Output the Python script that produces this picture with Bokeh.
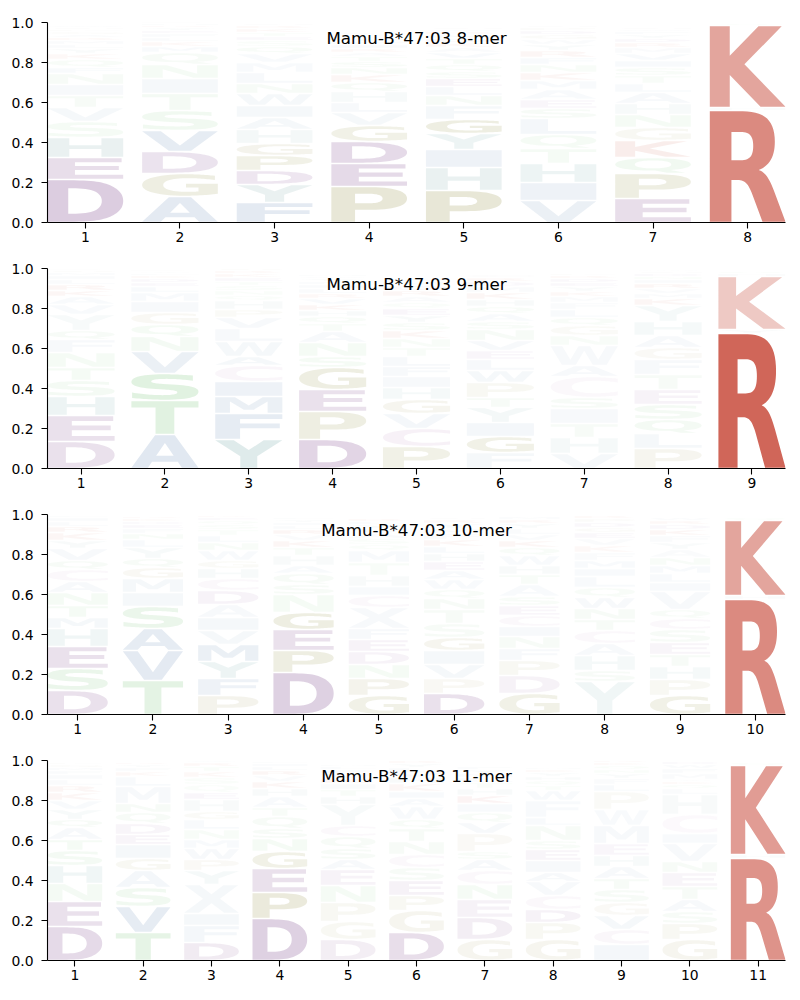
import struct, glob
import numpy as np
from bokeh.plotting import figure
from bokeh.models import ColumnDataSource, Range1d, FixedTicker, PrintfTickFormatter, Label
from bokeh.layouts import column
from bokeh.embed import file_html
from bokeh.resources import INLINE
from bokeh.core.properties import value

# ---------------- data: (letter, frequency, opacity), bottom to top ----------------
titles = ["Mamu-B*47:03 8-mer", "Mamu-B*47:03 9-mer", "Mamu-B*47:03 10-mer", "Mamu-B*47:03 11-mer"]

logo_8mer = [
    [("D",.215,.30),("E",.11,.20),("H",.10,.15),("S",.08,.07),("V",.07,.07),("T",.06,.06),("I",.055,.06),("N",.055,.06),("F",.03,.05),("Q",.04,.05),("K",.03,.04),("Y",.025,.04),("L",.02,.04),("M",.02,.04),("R",.015,.04),("A",.015,.04),("G",.015,.04),("P",.01,.04),("C",.01,.04),("W",.01,.04)],
    [("A",.13,.20),("G",.115,.18),("D",.11,.17),("V",.105,.18),("S",.10,.10),("T",.085,.08),("I",.075,.07),("N",.07,.07),("Q",.06,.06),("M",.03,.05),("K",.025,.04),("L",.02,.04),("F",.02,.04),("E",.015,.04),("Y",.015,.04),("R",.01,.04),("H",.01,.04),("P",.005,.04)],
    [("F",.10,.20),("Y",.09,.15),("D",.07,.15),("P",.075,.15),("G",.06,.12),("H",.07,.08),("A",.06,.07),("I",.06,.07),("W",.06,.07),("N",.05,.06),("L",.055,.06),("M",.05,.05),("V",.045,.05),("Q",.035,.05),("S",.03,.04),("E",.02,.04),("T",.02,.04),("K",.02,.04),("R",.015,.04),("C",.01,.04)],
    [("P",.18,.25),("E",.115,.22),("D",.11,.22),("G",.08,.15),("V",.065,.07),("L",.05,.06),("H",.055,.06),("Q",.045,.06),("K",.04,.05),("N",.035,.05),("S",.03,.05),("T",.025,.04),("A",.02,.04),("R",.02,.04),("I",.02,.04),("F",.015,.04),("Y",.015,.04),("M",.01,.04),("W",.01,.04),("C",.01,.04)],
    [("P",.16,.25),("H",.115,.15),("I",.09,.12),("Y",.08,.12),("G",.07,.18),("F",.07,.07),("N",.05,.06),("L",.045,.06),("E",.04,.06),("S",.035,.05),("Q",.035,.05),("T",.03,.05),("V",.03,.05),("A",.025,.04),("K",.025,.04),("D",.02,.04),("M",.02,.04),("R",.015,.04),("W",.01,.04),("C",.01,.04)],
    [("V",.11,.15),("I",.09,.12),("H",.095,.12),("T",.075,.07),("Q",.07,.07),("L",.08,.08),("S",.05,.06),("E",.045,.05),("A",.05,.05),("M",.045,.05),("K",.04,.05),("N",.04,.05),("F",.035,.05),("R",.035,.05),("Y",.03,.04),("W",.025,.04),("G",.025,.04),("D",.02,.04),("P",.015,.04),("C",.01,.04)],
    [("E",.12,.20),("P",.125,.18),("Q",.08,.10),("K",.085,.10),("G",.065,.08),("N",.065,.07),("H",.055,.06),("A",.055,.06),("L",.045,.05),("T",.04,.05),("S",.04,.05),("I",.035,.05),("V",.035,.05),("M",.03,.04),("R",.025,.04),("D",.02,.04),("Y",.02,.04),("F",.015,.04),("W",.01,.04),("C",.01,.04)],
    [("R",.56,.65),("H",.015,.05),("K",.41,.50),("Q",.01,.04)],
]

logo_9mer = [
    [("D",.135,.18),("E",.13,.18),("H",.095,.12),("S",.08,.08),("T",.065,.07),("N",.075,.07),("F",.065,.06),("Q",.045,.06),("Y",.08,.06),("V",.05,.05),("A",.04,.05),("K",.03,.05),("R",.03,.05),("L",.025,.04),("I",.02,.04),("M",.015,.04),("G",.01,.04),("P",.005,.04)],
    [("A",.17,.22),("T",.17,.22),("S",.135,.22),("V",.11,.15),("N",.075,.08),("Q",.06,.07),("G",.06,.07),("I",.055,.06),("M",.045,.05),("L",.03,.05),("E",.02,.04),("D",.02,.04),("K",.015,.04),("F",.01,.04),("Y",.01,.04),("P",.005,.04)],
    [("Y",.145,.22),("F",.13,.18),("M",.085,.15),("I",.075,.12),("C",.08,.08),("A",.045,.07),("W",.075,.07),("L",.065,.06),("V",.055,.06),("P",.04,.05),("H",.045,.05),("Q",.025,.04),("N",.025,.04),("S",.025,.04),("T",.02,.04),("E",.02,.04),("K",.02,.04),("R",.015,.04),("G",.01,.04)],
    [("D",.145,.25),("P",.14,.18),("E",.11,.18),("G",.11,.18),("S",.055,.07),("N",.07,.07),("A",.055,.06),("T",.04,.05),("Q",.035,.05),("H",.03,.05),("K",.03,.05),("V",.03,.05),("R",.025,.04),("L",.025,.04),("I",.02,.04),("F",.015,.04),("Y",.015,.04),("W",.01,.04),("M",.01,.04)],
    [("P",.11,.15),("C",.09,.12),("V",.075,.08),("G",.07,.10),("H",.06,.07),("I",.055,.06),("F",.05,.06),("L",.05,.06),("T",.045,.05),("N",.045,.05),("K",.04,.05),("S",.04,.05),("Y",.035,.05),("E",.035,.05),("Q",.03,.04),("A",.03,.04),("R",.03,.05),("D",.025,.04),("M",.02,.04),("W",.015,.04)],
    [("F",.08,.07),("G",.08,.15),("I",.07,.08),("Y",.075,.08),("T",.05,.06),("P",.075,.08),("W",.06,.07),("L",.055,.06),("E",.045,.05),("V",.05,.06),("N",.055,.06),("S",.04,.05),("A",.04,.05),("Q",.035,.05),("H",.035,.05),("K",.035,.05),("M",.03,.04),("D",.025,.04),("R",.02,.04),("C",.015,.04)],
    [("V",.075,.07),("H",.08,.07),("T",.07,.06),("I",.075,.06),("S",.055,.06),("C",.105,.06),("A",.055,.06),("W",.10,.06),("N",.05,.05),("G",.05,.05),("Q",.04,.05),("L",.04,.05),("F",.035,.04),("M",.03,.04),("K",.025,.04),("Y",.025,.04),("E",.02,.04),("D",.02,.04),("R",.015,.04),("P",.01,.04)],
    [("P",.10,.10),("L",.075,.07),("Q",.07,.08),("S",.075,.08),("E",.075,.07),("T",.075,.06),("F",.075,.06),("G",.06,.06),("A",.06,.06),("H",.07,.07),("Y",.08,.07),("K",.035,.05),("M",.025,.04),("V",.025,.04),("R",.025,.05),("I",.02,.04),("N",.015,.04),("D",.015,.04),("C",.01,.04),("W",.005,.04)],
    [("R",.675,.85),("Y",.02,.05),("K",.265,.30),("H",.015,.04),("S",.01,.04)],
]

logo_10mer = [
    [("D",.12,.18),("S",.11,.15),("E",.11,.18),("H",.09,.10),("M",.055,.07),("T",.06,.07),("N",.065,.07),("A",.055,.06),("C",.06,.06),("Q",.045,.06),("V",.06,.06),("Y",.04,.05),("K",.04,.05),("R",.03,.05),("L",.025,.04),("I",.02,.04),("F",.01,.04)],
    [("T",.17,.20),("V",.15,.20),("A",.11,.18),("S",.11,.15),("I",.07,.07),("M",.07,.07),("G",.055,.07),("Q",.045,.06),("Y",.055,.06),("L",.04,.05),("N",.03,.05),("F",.025,.04),("E",.02,.04),("D",.015,.04),("K",.015,.04),("R",.01,.04)],
    [("P",.095,.12),("F",.085,.12),("Y",.085,.12),("M",.085,.15),("V",.07,.07),("I",.065,.07),("A",.065,.06),("D",.07,.07),("C",.06,.06),("H",.05,.06),("G",.04,.05),("W",.05,.05),("N",.04,.05),("L",.035,.05),("T",.03,.04),("S",.025,.04),("Q",.02,.04),("E",.015,.04),("K",.01,.04)],
    [("D",.21,.28),("P",.11,.18),("E",.105,.18),("G",.085,.18),("N",.09,.07),("S",.05,.06),("Q",.055,.06),("A",.04,.05),("H",.05,.05),("T",.04,.05),("K",.035,.05),("V",.03,.04),("R",.025,.05),("L",.02,.04),("I",.015,.04),("Y",.015,.04),("F",.01,.04)],
    [("G",.095,.15),("P",.085,.12),("N",.07,.07),("D",.065,.07),("E",.06,.07),("F",.055,.06),("X",.105,.06),("C",.06,.06),("I",.045,.05),("H",.055,.05),("T",.065,.05),("M",.06,.05),("Q",.03,.04),("S",.03,.04),("A",.025,.04),("V",.025,.04),("Y",.02,.04),("L",.015,.04),("R",.015,.04)],
    [("D",.105,.18),("P",.075,.07),("V",.07,.07),("I",.07,.07),("G",.065,.10),("S",.07,.06),("T",.07,.06),("N",.055,.06),("Q",.045,.05),("W",.05,.05),("A",.045,.05),("E",.045,.05),("H",.04,.05),("L",.035,.05),("K",.035,.05),("F",.03,.04),("M",.025,.04),("Y",.025,.04),("R",.02,.04),("C",.01,.04)],
    [("G",.105,.15),("D",.09,.08),("P",.075,.08),("F",.06,.06),("N",.06,.06),("I",.05,.06),("C",.055,.06),("E",.05,.05),("S",.045,.05),("A",.06,.05),("T",.05,.05),("H",.045,.05),("W",.05,.05),("Q",.04,.05),("K",.035,.05),("V",.03,.04),("L",.03,.04),("Y",.025,.04),("R",.02,.04),("M",.015,.04)],
    [("Y",.165,.10),("S",.055,.06),("H",.075,.07),("A",.06,.06),("C",.065,.06),("T",.055,.06),("N",.055,.06),("W",.055,.06),("Q",.05,.05),("L",.055,.05),("I",.04,.05),("M",.04,.05),("F",.04,.04),("K",.035,.04),("V",.035,.04),("E",.03,.04),("G",.025,.04),("D",.025,.04),("P",.02,.04),("R",.015,.04)],
    [("G",.095,.15),("P",.08,.08),("H",.065,.07),("T",.06,.06),("E",.06,.06),("S",.065,.06),("C",.055,.06),("Q",.045,.05),("V",.09,.06),("I",.045,.05),("L",.045,.05),("M",.04,.05),("N",.04,.05),("A",.04,.04),("Y",.035,.04),("F",.035,.04),("K",.03,.05),("D",.025,.04),("R",.02,.04),("W",.015,.04)],
    [("R",.575,.65),("H",.02,.04),("K",.375,.50),("Q",.015,.04)],
]

logo_11mer = [
    [("D",.17,.22),("E",.125,.18),("N",.09,.08),("H",.09,.10),("S",.075,.08),("T",.055,.07),("A",.06,.06),("Q",.04,.06),("Y",.05,.06),("V",.045,.05),("K",.04,.05),("R",.035,.05),("L",.03,.04),("I",.025,.04),("F",.02,.04),("M",.015,.04),("G",.015,.04),("P",.01,.04)],
    [("T",.14,.18),("V",.13,.18),("S",.095,.10),("A",.085,.08),("G",.06,.08),("I",.07,.07),("E",.05,.06),("D",.055,.06),("Q",.055,.06),("N",.045,.06),("M",.085,.06),("L",.05,.05),("K",.025,.04),("F",.02,.04),("Y",.015,.04),("R",.01,.04)],
    [("D",.09,.12),("F",.085,.08),("I",.06,.07),("X",.145,.07),("Y",.07,.07),("P",.055,.06),("W",.055,.06),("M",.045,.05),("N",.05,.05),("L",.05,.05),("G",.04,.05),("H",.06,.05),("E",.035,.05),("Q",.04,.04),("S",.035,.04),("K",.03,.04),("T",.025,.04),("R",.02,.04),("V",.01,.04)],
    [("D",.21,.28),("P",.13,.22),("E",.12,.18),("G",.085,.15),("N",.065,.07),("S",.05,.06),("Q",.06,.06),("T",.045,.05),("A",.055,.05),("H",.04,.05),("K",.035,.05),("V",.03,.04),("R",.025,.05),("L",.02,.04),("I",.015,.04),("F",.01,.04)],
    [("D",.105,.10),("G",.09,.08),("P",.095,.08),("N",.085,.07),("E",.08,.07),("A",.05,.06),("S",.055,.06),("Q",.06,.06),("C",.055,.06),("Y",.105,.06),("H",.04,.05),("T",.035,.05),("I",.03,.04),("K",.025,.05),("V",.025,.04),("F",.02,.04),("L",.015,.04),("M",.01,.04)],
    [("D",.14,.20),("G",.11,.10),("P",.075,.08),("E",.075,.08),("S",.065,.06),("C",.065,.06),("N",.065,.06),("T",.065,.06),("Q",.045,.05),("W",.065,.05),("A",.04,.05),("I",.035,.05),("K",.04,.05),("H",.03,.05),("V",.025,.04),("L",.025,.04),("Y",.02,.04),("R",.015,.04)],
    [("G",.105,.10),("D",.11,.10),("E",.09,.08),("N",.075,.07),("C",.07,.06),("A",.055,.06),("S",.04,.05),("P",.09,.06),("V",.055,.06),("Q",.05,.05),("I",.045,.05),("K",.04,.06),("H",.035,.05),("T",.03,.04),("L",.025,.04),("M",.02,.04),("Y",.02,.04),("F",.015,.04)],
    [("G",.105,.10),("P",.085,.08),("D",.065,.08),("C",.07,.06),("V",.07,.06),("A",.045,.06),("I",.06,.06),("E",.055,.06),("S",.045,.05),("N",.075,.06),("L",.04,.05),("F",.085,.05),("W",.05,.05),("T",.025,.04),("Q",.025,.04),("H",.02,.04),("Y",.02,.04),("K",.015,.04),("M",.01,.04)],
    [("I",.08,.08),("C",.075,.07),("V",.07,.07),("G",.065,.06),("S",.065,.06),("T",.055,.06),("A",.06,.06),("H",.055,.06),("E",.06,.05),("M",.09,.06),("W",.08,.05),("P",.09,.05),("L",.035,.05),("F",.03,.04),("Y",.025,.04),("N",.02,.04),("Q",.02,.04),("K",.015,.04),("R",.01,.04)],
    [("G",.105,.10),("P",.08,.08),("S",.06,.06),("A",.06,.06),("T",.065,.06),("E",.07,.06),("N",.055,.06),("V",.09,.06),("I",.05,.05),("C",.095,.05),("H",.10,.05),("L",.03,.04),("Q",.02,.04),("K",.015,.04),("Y",.01,.04),("M",.03,.04),("F",.025,.04),("W",.02,.04),("D",.015,.04)],
    [("R",.51,.60),("H",.02,.04),("K",.445,.55),("Q",.015,.04)],
]

logos = [logo_8mer, logo_9mer, logo_10mer, logo_11mer]

RED, PURPLE, OLIVE, BLUE, GREEN, TEAL, PINK = "#c84b3c", "#8a5898", "#a3a060", "#7797bf", "#77c377", "#6fa3a3", "#bf8fbf"
letter_colors = {"K": RED, "R": RED, "D": PURPLE, "E": PURPLE, "P": OLIVE, "G": OLIVE,
                 "A": BLUE, "V": BLUE, "L": BLUE, "I": BLUE, "M": BLUE, "F": BLUE, "W": BLUE, "X": BLUE,
                 "S": GREEN, "T": GREEN, "N": GREEN, "Q": GREEN, "H": TEAL, "Y": TEAL, "C": PINK}

# ---------------- glyph outlines from the installed bold sans font ----------------
class TTF:
    def __init__(self, path):
        d = open(path, "rb").read()
        self.d = d
        n = struct.unpack(">H", d[4:6])[0]
        self.t = {}
        for i in range(n):
            tag, cs, off, ln = struct.unpack(">4sIII", d[12 + 16 * i:28 + 16 * i])
            self.t[tag.decode("latin1")] = (off, ln)
        ho = self.t["head"][0]
        locfmt = struct.unpack(">h", d[ho + 50:ho + 52])[0]
        mo = self.t["maxp"][0]
        ng = struct.unpack(">H", d[mo + 4:mo + 6])[0]
        lo = self.t["loca"][0]
        if locfmt == 0:
            self.loca = [2 * v for v in struct.unpack(">%dH" % (ng + 1), d[lo:lo + 2 * (ng + 1)])]
        else:
            self.loca = list(struct.unpack(">%dI" % (ng + 1), d[lo:lo + 4 * (ng + 1)]))
        self._cmap()

    def _cmap(self):
        d = self.d
        co = self.t["cmap"][0]
        n = struct.unpack(">H", d[co + 2:co + 4])[0]
        sub = None
        for i in range(n):
            pid, eid, off = struct.unpack(">HHI", d[co + 4 + 8 * i:co + 12 + 8 * i])
            fmt = struct.unpack(">H", d[co + off:co + off + 2])[0]
            if fmt == 4 and (sub is None or (pid == 3 and eid == 1)):
                sub = co + off
        sx2 = struct.unpack(">H", d[sub + 6:sub + 8])[0]
        seg = sx2 // 2
        self.ends = struct.unpack(">%dH" % seg, d[sub + 14:sub + 14 + sx2])
        self.starts = struct.unpack(">%dH" % seg, d[sub + 16 + sx2:sub + 16 + 2 * sx2])
        self.deltas = struct.unpack(">%dh" % seg, d[sub + 16 + 2 * sx2:sub + 16 + 3 * sx2])
        self.rpos = sub + 16 + 3 * sx2
        self.roffs = struct.unpack(">%dH" % seg, d[self.rpos:self.rpos + sx2])

    def gid(self, ch):
        c = ord(ch)
        for i in range(len(self.ends)):
            if self.starts[i] <= c <= self.ends[i]:
                if self.roffs[i] == 0:
                    return (c + self.deltas[i]) & 0xFFFF
                a = self.rpos + 2 * i + self.roffs[i] + 2 * (c - self.starts[i])
                g = struct.unpack(">H", self.d[a:a + 2])[0]
                return (g + self.deltas[i]) & 0xFFFF if g else 0
        return 0

    def contours(self, g):
        d = self.d
        go = self.t["glyf"][0]
        s, e = go + self.loca[g], go + self.loca[g + 1]
        if e <= s:
            return []
        nc = struct.unpack(">h", d[s:s + 2])[0]
        p = s + 10
        if nc < 0:
            out = []
            while True:
                fl, gi = struct.unpack(">HH", d[p:p + 4]); p += 4
                if fl & 1:
                    dx, dy = struct.unpack(">hh", d[p:p + 4]); p += 4
                else:
                    dx, dy = struct.unpack(">bb", d[p:p + 2]); p += 2
                if fl & 8: p += 2
                elif fl & 0x40: p += 4
                elif fl & 0x80: p += 8
                for c in self.contours(gi):
                    out.append([(x + dx, y + dy) for x, y in c])
                if not fl & 0x20:
                    break
            return out
        endpts = struct.unpack(">%dH" % nc, d[p:p + 2 * nc]); p += 2 * nc
        il = struct.unpack(">H", d[p:p + 2])[0]; p += 2 + il
        npts = endpts[-1] + 1
        flags = []
        while len(flags) < npts:
            f = d[p]; p += 1
            flags.append(f)
            if f & 8:
                r = d[p]; p += 1
                flags.extend([f] * r)
        xs, v = [], 0
        for f in flags:
            if f & 2:
                dv = d[p]; p += 1
                v += dv if f & 16 else -dv
            elif not f & 16:
                v += struct.unpack(">h", d[p:p + 2])[0]; p += 2
            xs.append(v)
        ys, v = [], 0
        for f in flags:
            if f & 4:
                dv = d[p]; p += 1
                v += dv if f & 32 else -dv
            elif not f & 32:
                v += struct.unpack(">h", d[p:p + 2])[0]; p += 2
            ys.append(v)
        out, st = [], 0
        for en in endpts:
            pts = [(xs[i], ys[i], flags[i] & 1) for i in range(st, en + 1)]
            st = en + 1
            out.append(self._flatten(pts))
        return out

    @staticmethod
    def _flatten(pts, steps=7):
        n = len(pts)
        full = []
        for i in range(n):
            a, b = pts[i], pts[(i + 1) % n]
            full.append(a)
            if not a[2] and not b[2]:
                full.append(((a[0] + b[0]) / 2, (a[1] + b[1]) / 2, 1))
        k = next(i for i, q in enumerate(full) if q[2])
        full = full[k:] + full[:k]
        m = len(full)
        out = [(full[0][0], full[0][1])]
        i = 1
        while i <= m:
            q = full[i % m]
            if q[2]:
                out.append((q[0], q[1])); i += 1
            else:
                s0 = out[-1]; e0 = full[(i + 1) % m]
                for t in np.linspace(0, 1, steps + 1)[1:]:
                    out.append(((1 - t) ** 2 * s0[0] + 2 * (1 - t) * t * q[0] + t * t * e0[0],
                                (1 - t) ** 2 * s0[1] + 2 * (1 - t) * t * q[1] + t * t * e0[1]))
                i += 2
        return out[:-1]


def area(c):
    x, y = c[:, 0], c[:, 1]
    return 0.5 * np.sum(x * np.roll(y, -1) - np.roll(x, -1) * y)


def inside(pt, c):
    x, y = pt
    xs, ys = c[:, 0], c[:, 1]
    x2, y2 = np.roll(xs, -1), np.roll(ys, -1)
    cond = (ys > y) != (y2 > y)
    with np.errstate(divide="ignore", invalid="ignore"):
        xi = xs + (y - ys) * (x2 - xs) / (y2 - ys)
    return np.sum(cond & (x < xi)) % 2 == 1


font_path = None
for pat in ["/usr/share/fonts/**/DejaVuSans-Bold.ttf", "/usr/local/share/fonts/**/DejaVuSans-Bold.ttf",
            "/usr/share/fonts/**/LiberationSans-Bold.ttf", "/usr/share/fonts/**/Roboto-Bold.ttf"]:
    found = sorted(glob.glob(pat, recursive=True))
    if found:
        font_path = found[0]
        break

shapes = {}
if font_path:
    try:
        ttf = TTF(font_path)
        for ch in letter_colors:
            cs = [np.array(c, dtype=float) for c in ttf.contours(ttf.gid(ch)) if len(c) > 2]
            allp = np.vstack(cs)
            mn, mx = allp.min(axis=0), allp.max(axis=0)
            cs = [(c - mn) / (mx - mn) for c in cs]
            areas = [area(c) for c in cs]
            big = np.sign(areas[int(np.argmax(np.abs(areas)))])
            outers = [c for c, a in zip(cs, areas) if np.sign(a) == big]
            holes = [c for c, a in zip(cs, areas) if np.sign(a) != big]
            polys = [[o] for o in outers]
            for h in holes:
                j = next((k for k, o in enumerate(outers) if inside(h[0], o)), 0)
                polys[j].append(h)
            shapes[ch] = polys
    except Exception:
        shapes = {}

# ---------------- figures ----------------
LW = 0.8      # letter width in position units
GAP = 0.004   # vertical gap at each side of a letter
plots = []
for idx, (title, logo) in enumerate(zip(titles, logos)):
    n = len(logo)
    top = 22 if idx == 0 else 14
    p = figure(frame_width=738, frame_height=200, x_range=Range1d(0.6, n + 0.4), y_range=Range1d(0, 1),
               output_backend="svg", toolbar_location=None,
               min_border_left=47, min_border_right=13, min_border_top=top, min_border_bottom=32)
    xs, ys, cols, alps = [], [], [], []
    tx, ty, tt, tfs = [], [], [], []
    for i, stack in enumerate(logo):
        pos = i + 1
        cum = 0.0
        for letter, h, a in stack:
            y0, y1 = cum + GAP, cum + h - GAP
            if y1 <= y0:
                y1 = y0 + 0.001
            cum += h
            if shapes:
                gx, gy = [], []
                for poly in shapes[letter]:
                    gx.append([pos - LW / 2 + r[:, 0] * LW for r in poly])
                    gy.append([y0 + r[:, 1] * (y1 - y0) for r in poly])
                xs.append(gx); ys.append(gy)
            else:
                tx.append(pos); ty.append(y0); tt.append(letter)
                tfs.append("%.1fpx" % ((y1 - y0) * 200 / 0.73))
            cols.append(letter_colors[letter]); alps.append(a)
    if shapes:
        src = ColumnDataSource(dict(xs=xs, ys=ys, c=cols, a=alps))
        p.multi_polygons("xs", "ys", source=src, fill_color="c", fill_alpha="a", line_color=None)
    else:
        src = ColumnDataSource(dict(x=tx, y=ty, t=tt, c=cols, a=alps, fs=tfs))
        p.text("x", "y", text="t", source=src, text_color="c", text_alpha="a", text_font_size="fs",
               text_font=value("DejaVu Sans"), text_font_style="bold", text_align="center",
               text_baseline="alphabetic")

    p.add_layout(Label(x=(n + 1) / 2, y=0.925, text=title, text_align="center", text_baseline="middle",
                       text_font="DejaVu Sans", text_font_size="16.7px", text_color="black"))

    p.xaxis.ticker = FixedTicker(ticks=list(range(1, n + 1)))
    p.yaxis.ticker = FixedTicker(ticks=[0, 0.2, 0.4, 0.6, 0.8, 1.0])
    p.yaxis.formatter = PrintfTickFormatter(format="%.1f")
    for ax in (p.xaxis, p.yaxis):
        ax.major_label_text_font = "DejaVu Sans"
        ax.major_label_text_font_size = "13.9px"
        ax.major_label_text_color = "black"
        ax.axis_line_color = "black"
        ax.axis_line_width = 1.1
        ax.major_tick_line_color = "black"
        ax.major_tick_line_width = 1.1
        ax.major_tick_out = 6
        ax.major_tick_in = 0
        ax.minor_tick_line_color = None
    p.xaxis.major_label_standoff = 3
    p.yaxis.major_label_standoff = 8
    p.xgrid.visible = False
    p.ygrid.visible = False
    p.outline_line_color = None
    p.background_fill_color = "white"
    p.border_fill_color = "white"
    plots.append(p)

layout = column(*plots, spacing=0)
open("out.html", "w").write(file_html(layout, INLINE))
